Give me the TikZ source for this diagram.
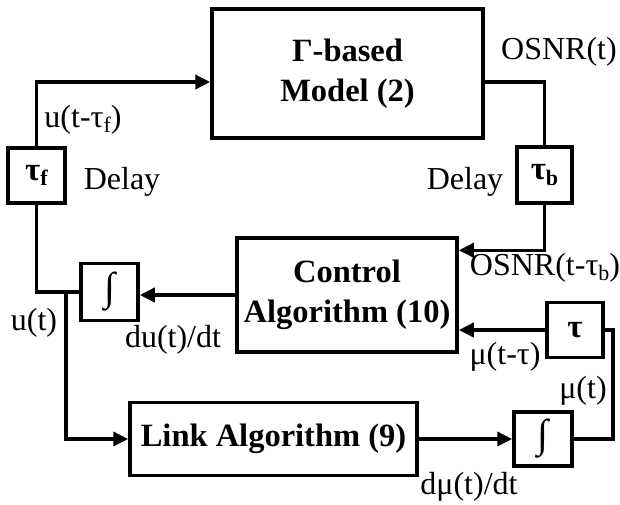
\documentclass[tikz,border=0pt]{standalone}
\usepackage{fontspec}
\setmainfont{Liberation Serif}
\usetikzlibrary{arrows.meta,calc}
\newcommand{\lowsub}[1]{\raisebox{-0.35ex}{\fontsize{22}{22}\selectfont #1}}
\begin{document}
\begin{tikzpicture}[x=1pt,y=-1pt,
  blk/.style={draw,line width=3.5pt,inner sep=0pt,align=center,font=\fontsize{32.5}{40}\selectfont\bfseries},
  sml/.style={draw,line width=3.5pt,inner sep=0pt,font=\fontsize{33}{34}\selectfont\bfseries},
  intg/.style={sml,font=\fontsize{40}{40}\selectfont},
  lbl/.style={inner sep=0pt,font=\fontsize{32}{34}\selectfont},
  wire/.style={line width=3.5pt},
  arr/.style={line width=3.5pt,-{Triangle[length=15pt,width=14pt]}}]
\useasboundingbox (0,0) rectangle (620,504);
\node[blk,minimum width=271pt,minimum height=129pt] (model) at (347.5,73.5) {Γ-based\\Model (2)};
\node[blk,minimum width=220pt,minimum height=114pt] (ctrl) at (347,295) {Control\\Algorithm (10)};
\node[blk,minimum width=287pt,minimum height=73pt] (link) at (273.5,439) {Link Algorithm (9)};
\node[sml,minimum width=57pt,minimum height=55pt] (tauf) at (36.5,175.5) {τ\lowsub{f}};
\node[sml,minimum width=55pt,minimum height=56pt] (taub) at (544.5,175) {τ\lowsub{b}};
\node[intg,minimum width=57pt,minimum height=57pt] (int1) at (109.5,292) {∫};
\node[intg,minimum width=58pt,minimum height=54pt] (int2) at (543,439) {∫};
\node[sml,minimum width=56pt,minimum height=55pt] (tau) at (575,330) {τ};
\coordinate (br) at (66,292);
\coordinate (rt) at (613,330);
% connectors
\draw[arr] (tauf.north) |- ([yshift=-8.5pt]model.west);
\draw[wire] ([yshift=-8.5pt]model.east) -| (taub.north);
\draw[arr] (taub.south) |- ([yshift=-14pt]ctrl.north east);
\draw[wire] (tauf.south) |- (int1.west);
\draw[arr] (ctrl.west) -- (ctrl.west -| int1.east);
\draw[arr] (br) |- (link.west);
\draw[arr] (link.east) -- (int2.west);
\draw[wire] (int2.east) -| (rt) -- (tau.east);
\draw[arr] (tau.west) -- (tau.west -| ctrl.east);
% labels
\node[lbl] (l1) at (559,52) {OSNR(t)};
\node[lbl] (l2) at (83,120) {u(t-τ\lowsub{f})};
\node[lbl] (l3) at (122,182) {Delay};
\node[lbl] (l4) at (465,182) {Delay};
\node[lbl] (l5) at (545,268) {OSNR(t-τ\lowsub{b})};
\node[lbl] (l6) at (34,323) {u(t)};
\node[lbl] (l7) at (173,340) {du(t)/dt};
\node[lbl] (l8) at (505,357) {μ(t-τ)};
\node[lbl] (l9) at (583,391) {μ(t)};
\node[lbl] (l10) at (469,487) {dμ(t)/dt};
\end{tikzpicture}
\end{document}
